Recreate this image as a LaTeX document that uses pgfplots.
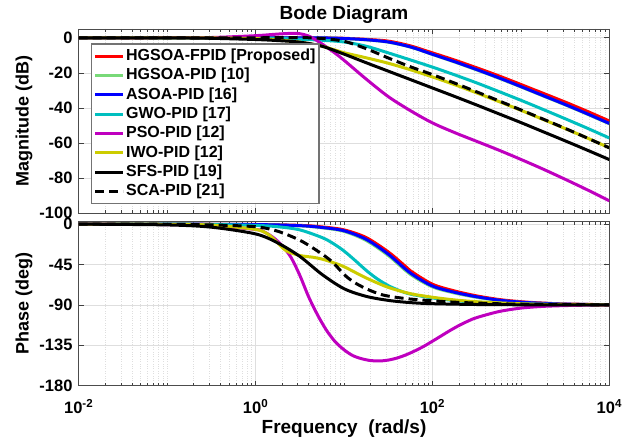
\documentclass[border=0pt]{standalone}
\usepackage{fontspec}
\setmainfont{Liberation Sans}
\usepackage{pgfplots}
\pgfplotsset{compat=1.18}

\definecolor{mred}{rgb}{1,0,0}
\definecolor{mgreen}{rgb}{0.47,0.85,0.47}
\definecolor{mblue}{rgb}{0,0,1}
\definecolor{mcyan}{rgb}{0,0.75,0.75}
\definecolor{mmag}{rgb}{0.75,0,0.75}
\definecolor{myel}{rgb}{0.8,0.8,0}
\definecolor{gridc}{rgb}{0.87,0.87,0.87}

\begin{document}
\begin{tikzpicture}
\useasboundingbox (-78.7pt,-55.3pt) rectangle (554.3pt,385.7pt);
% ---------------- Magnitude ----------------
\begin{axis}[
  xmode=log, scale only axis, width=530.6pt, height=184.3pt,
  at={(0pt,172.4pt)}, anchor=south west,
  xmin=0.01, xmax=10000, ymin=-100, ymax=5,
  axis line style={black!70, line width=0.8pt},
  tick align=inside, xtick pos=both, ytick pos=both,
  tick style={black!75, line width=0.7pt},
  major tick length=5pt, minor tick length=3pt,
  xtick={0.01,1,100,10000},
  minor xtick={0.02,0.03,0.04,0.05,0.06,0.07,0.08,0.09,0.1,0.2,0.3,0.4,0.5,0.6,0.7,0.8,0.9,2,3,4,5,6,7,8,9,10,20,30,40,50,60,70,80,90,200,300,400,500,600,700,800,900,1000,2000,3000,4000,5000,6000,7000,8000,9000},
  xmajorgrids, xminorgrids, ymajorgrids,
  major grid style={gridc, line width=0.7pt},
  minor grid style={gridc, dotted, line width=0.6pt},
  /pgf/number format/assume math mode=true,
  ticklabel style={font=\bfseries\fontsize{16.5}{18}\selectfont},
  yticklabel style={inner sep=0pt, xshift=-6pt},
  ylabel style={at={(axis description cs:-0.103,0.5)}, anchor=center, font=\bfseries\fontsize{18}{20}\selectfont},
  ytick={-100,-80,-60,-40,-20,0},
  xticklabels={},
  ylabel={Magnitude (dB)},
  title={Bode Diagram},
  every axis title shift=0pt,
  title style={at={(axis description cs:0.5,1)}, anchor=base, yshift=9pt, font=\bfseries\fontsize{19}{21}\selectfont},
  legend image code/.code={\draw[#1] (0pt,0pt) -- (28pt,0pt);},
  legend style={at={(axis description cs:0.0232,0.922)}, anchor=north west,
    draw=black!55, line width=1.2pt, fill=white,
    font=\bfseries\fontsize{16}{18}\selectfont,
    inner xsep=2pt, inner ysep=4pt, row sep=2.84pt,
    nodes={text height=12pt, text depth=3.5pt, inner ysep=0.5pt, inner xsep=1.5pt},
    cells={anchor=west}},
]
\addplot[mred, line width=3pt, smooth] coordinates {(0.01,0)(0.1,0)(1,0)(3.162,0)(5.623,-0.05)(10,-0.3)(17.78,-0.9)(31.62,-1.9)(56.23,-4.6)(100,-8.6)(177.8,-12.7)(316.2,-17.1)(562.3,-21.7)(1000,-26.6)(1778,-31.6)(3162,-36.6)(5623,-41.9)(10000,-47.4)};
\addlegendentry{HGSOA-FPID [Proposed]}
\addplot[mgreen, line width=3pt, smooth] coordinates {(0.01,0)(0.1,0)(1,0)(3.162,0)(5.623,-0.08)(10,-0.45)(17.78,-1.2)(31.62,-2.5)(56.23,-5.3)(100,-9.5)(177.8,-13.8)(316.2,-18.3)(562.3,-23.0)(1000,-28.0)(1778,-33.1)(3162,-38.2)(5623,-43.5)(10000,-49.0)};
\addlegendentry{HGSOA-PID [10]}
\addplot[mblue, line width=3pt, smooth] coordinates {(0.01,0)(0.1,0)(1,0)(3.162,0)(5.623,-0.07)(10,-0.4)(17.78,-1.1)(31.62,-2.4)(56.23,-5.2)(100,-9.4)(177.8,-13.6)(316.2,-18.1)(562.3,-22.8)(1000,-27.8)(1778,-32.9)(3162,-38.0)(5623,-43.3)(10000,-48.8)};
\addlegendentry{ASOA-PID [16]}
\addplot[mcyan, line width=3pt, smooth] coordinates {(0.01,0)(0.1,0)(1,-0.2)(1.778,-0.4)(3.162,-0.8)(5.623,-1.4)(10,-2.4)(17.78,-4.8)(31.62,-8.6)(56.23,-12.6)(100,-16.7)(177.8,-21.1)(316.2,-25.7)(562.3,-30.6)(1000,-35.6)(1778,-40.8)(3162,-46.1)(5623,-51.5)(10000,-57.1)};
\addlegendentry{GWO-PID [17]}
\addplot[mmag, line width=3pt, smooth] coordinates {(0.01,0)(0.1,0.02)(0.316,0.15)(1,1.2)(1.778,2.1)(2.512,2.5)(3.162,2.3)(3.981,1.0)(5.012,-1.8)(6.310,-5.2)(7.943,-8.8)(10,-12.8)(17.78,-23.5)(31.62,-33.5)(56.23,-41.5)(100,-48.5)(177.8,-54)(316.2,-59)(562.3,-64)(1000,-69.3)(1778,-74.8)(3162,-80.6)(5623,-86.6)(10000,-92.9)};
\addlegendentry{PSO-PID [12]}
\addplot[myel, line width=3pt, smooth] coordinates {(0.01,0)(0.1,0)(0.316,-0.1)(1,-0.5)(1.778,-1.2)(3.162,-2.5)(5.623,-4.8)(10,-8.5)(17.78,-11.4)(31.62,-14.5)(56.23,-18.2)(100,-22.3)(177.8,-26.7)(316.2,-31.4)(562.3,-36.3)(1000,-41.3)(1778,-46.5)(3162,-51.7)(5623,-57.1)(10000,-62.7)};
\addlegendentry{IWO-PID [12]}
\addplot[black, line width=3pt, smooth] coordinates {(0.01,0)(0.1,-0.05)(0.316,-0.3)(1,-1.0)(1.778,-1.6)(3.162,-2.5)(5.623,-4.8)(10,-9.3)(17.78,-14.2)(31.62,-19.0)(56.23,-23.8)(100,-28.6)(177.8,-33.4)(316.2,-38.3)(562.3,-43.3)(1000,-48.3)(1778,-53.5)(3162,-58.7)(5623,-64.0)(10000,-69.4)};
\addlegendentry{SFS-PID [19]}
\addplot[black, line width=3pt, smooth, dash pattern=on 9pt off 5pt] coordinates {(0.01,0)(0.1,0)(1,0)(3.162,0.1)(5.623,-0.4)(10,-2.0)(17.78,-6.2)(31.62,-11.5)(56.23,-16.5)(100,-21.0)(177.8,-25.8)(316.2,-30.8)(562.3,-35.9)(1000,-41.1)(1778,-46.3)(3162,-51.6)(5623,-57.1)(10000,-62.7)};
\addlegendentry{SCA-PID [21]}
\end{axis}
% ---------------- Phase ----------------
\begin{axis}[
  xmode=log, scale only axis, width=530.6pt, height=164pt,
  at={(0pt,0pt)}, anchor=south west,
  xmin=0.01, xmax=10000, ymin=-180, ymax=2.6,
  axis line style={black!70, line width=0.8pt},
  tick align=inside, xtick pos=both, ytick pos=both,
  tick style={black!75, line width=0.7pt},
  major tick length=5pt, minor tick length=3pt,
  xtick={0.01,1,100,10000},
  minor xtick={0.02,0.03,0.04,0.05,0.06,0.07,0.08,0.09,0.1,0.2,0.3,0.4,0.5,0.6,0.7,0.8,0.9,2,3,4,5,6,7,8,9,10,20,30,40,50,60,70,80,90,200,300,400,500,600,700,800,900,1000,2000,3000,4000,5000,6000,7000,8000,9000},
  xmajorgrids, xminorgrids, ymajorgrids,
  major grid style={gridc, line width=0.7pt},
  minor grid style={gridc, dotted, line width=0.6pt},
  /pgf/number format/assume math mode=true,
  ticklabel style={font=\bfseries\fontsize{16.5}{18}\selectfont},
  yticklabel style={inner sep=0pt, xshift=-6pt},
  ylabel style={at={(axis description cs:-0.103,0.5)}, anchor=center, font=\bfseries\fontsize{18}{20}\selectfont},
  ytick={-180,-135,-90,-45,0},
  xticklabels={10\textsuperscript{-2},10\textsuperscript{0},10\textsuperscript{2},10\textsuperscript{4}},
  xticklabel style={anchor=base, yshift=-27.6pt},
  ylabel={Phase (deg)},
  xlabel={Frequency\ \ (rad/s)},
  xlabel style={at={(axis description cs:0.5,0)}, anchor=base, yshift=-47.6pt, font=\bfseries\fontsize{19}{21}\selectfont},
]
\addplot[mred, line width=3pt, smooth] coordinates {(0.01,0)(0.1,-0.1)(1,-0.5)(3.162,-1.5)(5.623,-3.2)(10,-6.5)(17.78,-15)(31.62,-31)(46.77,-45)(56.23,-52)(100,-67)(177.8,-74.5)(316.2,-80)(562.3,-84)(1000,-86.5)(1778,-88)(3162,-89)(10000,-89.9)};
\addplot[mgreen, line width=3pt, smooth] coordinates {(0.01,0)(0.1,-0.1)(1,-0.7)(3.162,-2)(5.623,-4.2)(10,-8.2)(17.78,-18.3)(31.62,-35)(56.23,-56)(100,-70)(177.8,-76.8)(316.2,-81.6)(562.3,-85)(1000,-87.2)(1778,-88.5)(3162,-89.3)(10000,-89.9)};
\addplot[mblue, line width=3pt, smooth] coordinates {(0.01,0)(0.1,-0.1)(1,-0.6)(3.162,-1.8)(5.623,-3.8)(10,-7.5)(17.78,-17)(31.62,-33.5)(56.23,-54.5)(100,-69)(177.8,-76)(316.2,-81)(562.3,-84.7)(1000,-87)(1778,-88.3)(3162,-89.2)(10000,-89.9)};
\addplot[mcyan, line width=3pt, smooth] coordinates {(0.01,0)(0.1,-0.1)(0.316,-0.5)(1,-1.5)(1.778,-3)(3.162,-6.5)(5.623,-15)(7.499,-21.5)(10,-30)(13.34,-40.5)(17.78,-51.5)(23.71,-61)(31.62,-68.5)(42.17,-74)(56.23,-78)(100,-82.3)(177.8,-85.2)(316.2,-87)(1000,-89)(3162,-89.7)(10000,-90)};
\addplot[mmag, line width=3pt, smooth] coordinates {(0.01,-0.1)(0.1,-0.6)(0.316,-2)(1,-6)(1.259,-9)(1.585,-15)(1.995,-24)(2.512,-37)(3.162,-57)(3.981,-81)(5.012,-101)(6.310,-118)(7.943,-131)(10,-140)(12.59,-146.5)(15.85,-150)(19.95,-152)(25.12,-152.5)(31.62,-151.5)(39.81,-149.2)(50.12,-145.7)(63.10,-141.3)(79.43,-136.3)(100,-130.5)(125.9,-124.5)(158.5,-118.5)(199.5,-113)(251.2,-108.2)(316.2,-104.2)(562.3,-97.5)(1000,-93.6)(1778,-91.7)(3162,-90.8)(5623,-90.35)(10000,-90.15)};
\addplot[myel, line width=3pt, smooth] coordinates {(0.01,0)(0.1,-0.3)(0.316,-1.2)(1,-6)(1.413,-12)(1.778,-21)(2.239,-30)(3.162,-35)(4.467,-37)(5.623,-39)(7.079,-42)(10,-47.5)(17.78,-60)(31.62,-70.5)(56.23,-77.5)(100,-81.5)(177.8,-84.5)(316.2,-86.5)(1000,-88.8)(3162,-89.6)(10000,-90)};
\addplot[black, line width=3pt, smooth] coordinates {(0.01,-0.1)(0.1,-1)(0.316,-3.5)(1,-11)(1.778,-21)(3.162,-36)(5.623,-56)(10,-72)(17.78,-80.5)(31.62,-85)(56.23,-87.5)(100,-88.7)(316.2,-89.6)(1000,-89.9)(10000,-90)};
\addplot[black, line width=3pt, smooth, dash pattern=on 9pt off 5pt] coordinates {(0.01,0)(0.1,-0.3)(0.316,-1)(1,-3)(1.778,-8)(3.162,-18)(5.012,-30)(7.244,-41.5)(10,-56)(12.59,-64)(17.78,-72)(27.54,-79)(50,-83)(100,-85.5)(177.8,-87)(316.2,-88)(1000,-89.3)(10000,-90)};
\end{axis}
\end{tikzpicture}
\end{document}
